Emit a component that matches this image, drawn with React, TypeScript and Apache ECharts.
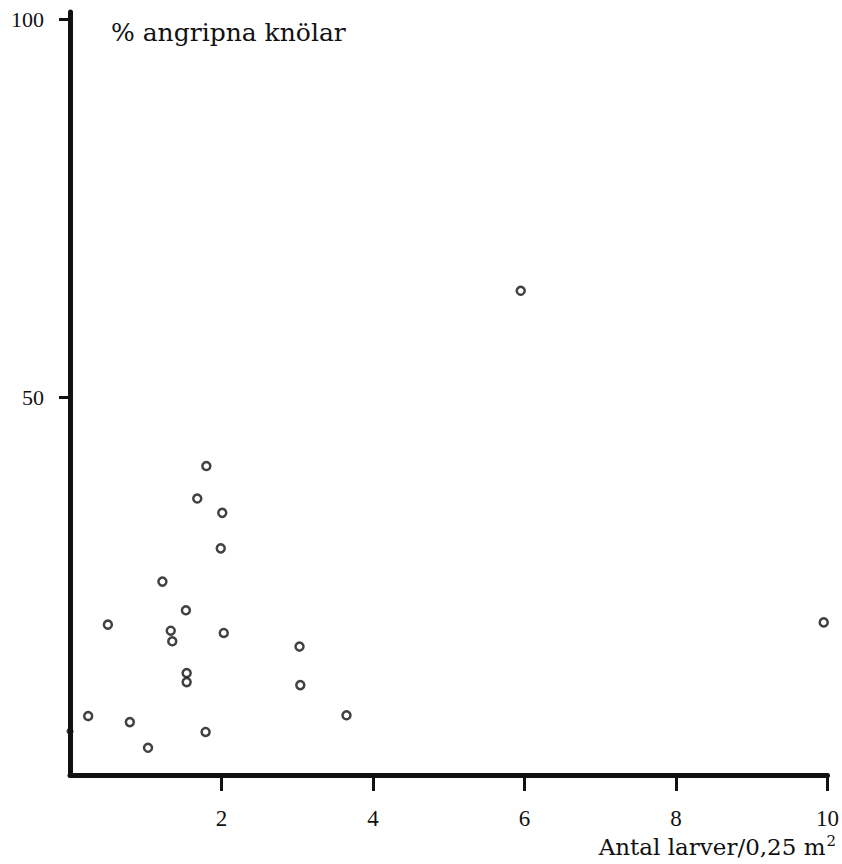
import React, { useEffect, useRef } from "react";
import * as echarts from "echarts";

const larvae = [5.95, 9.95, 1.8, 1.68, 2.01, 1.99, 1.22, 1.53, 0.5, 1.33, 1.35, 2.03, 3.03, 1.54, 1.54, 3.04, 0.24, 0.79, 1.79, 1.03, 3.65];
const attacked = [64.1, 20.2, 40.9, 36.6, 34.7, 30.0, 25.6, 21.8, 19.9, 19.1, 17.7, 18.8, 17.0, 13.5, 12.3, 11.9, 7.8, 7.0, 5.7, 3.6, 7.9];
const filledLarvae = [0];
const filledAttacked = [5.8];
const xTicks = [2, 4, 6, 8, 10];
const yTicks = [50, 100];

const NUM_FONT = "Liberation Serif";
const TEXT_FONT = "DejaVu Serif";

export default function App() {
  const ref = useRef<HTMLDivElement>(null);
  useEffect(() => {
    if (!ref.current) return;
    const chart = echarts.init(ref.current, null, { renderer: "svg" });
    chart.setOption({
      animation: false,
      backgroundColor: "#ffffff",
      grid: { left: 70, right: 14, top: 12, bottom: 89 },
      xAxis: {
        type: "value",
        min: 0,
        max: 10,
        splitLine: { show: false },
        axisLine: { show: true, lineStyle: { color: "#111", width: 5 } },
        axisTick: { show: true, customValues: xTicks, length: 16, lineStyle: { color: "#111", width: 3 } },
        axisLabel: { customValues: xTicks, color: "#111", fontFamily: NUM_FONT, fontSize: 23, margin: 32 },
      },
      yAxis: {
        type: "value",
        min: 0,
        max: 101,
        splitLine: { show: false },
        axisLine: { show: true, lineStyle: { color: "#111", width: 5 } },
        axisTick: { show: true, customValues: yTicks, length: 11, lineStyle: { color: "#111", width: 3 } },
        axisLabel: { customValues: yTicks, color: "#111", fontFamily: NUM_FONT, fontSize: 22, margin: 26 },
      },
      series: [
        {
          type: "scatter",
          data: larvae.map((x, i) => [x, attacked[i]]),
          symbol: "circle",
          symbolSize: 8,
          itemStyle: { color: "#fff", borderColor: "#111", borderWidth: 2.5 },
          z: 3,
        },
        {
          type: "scatter",
          data: filledLarvae.map((x, i) => [x, filledAttacked[i]]),
          symbol: "circle",
          symbolSize: 7,
          itemStyle: { color: "#111" },
          z: 1,
        },
      ],
      graphic: [
        {
          type: "text",
          x: 111,
          y: 32,
          style: {
            text: "% angripna knölar",
            fontFamily: TEXT_FONT,
            fontSize: 25,
            fill: "#111",
            align: "left",
            verticalAlign: "middle",
          },
        },
        {
          type: "text",
          x: 836,
          y: 847,
          style: {
            text: "Antal larver/0,25 m{sup|2}",
            fontFamily: TEXT_FONT,
            fontSize: 23,
            fill: "#111",
            align: "right",
            verticalAlign: "middle",
            rich: { sup: { fontFamily: TEXT_FONT, fontSize: 15, verticalAlign: "top", padding: [0, 0, 12, 1], fill: "#111" } },
          },
        },
      ],
    });
    return () => chart.dispose();
  }, []);
  return <div ref={ref} style={{ position: "fixed", left: 0, top: 0, width: 842, height: 864, background: "#fff" }} />;
}
